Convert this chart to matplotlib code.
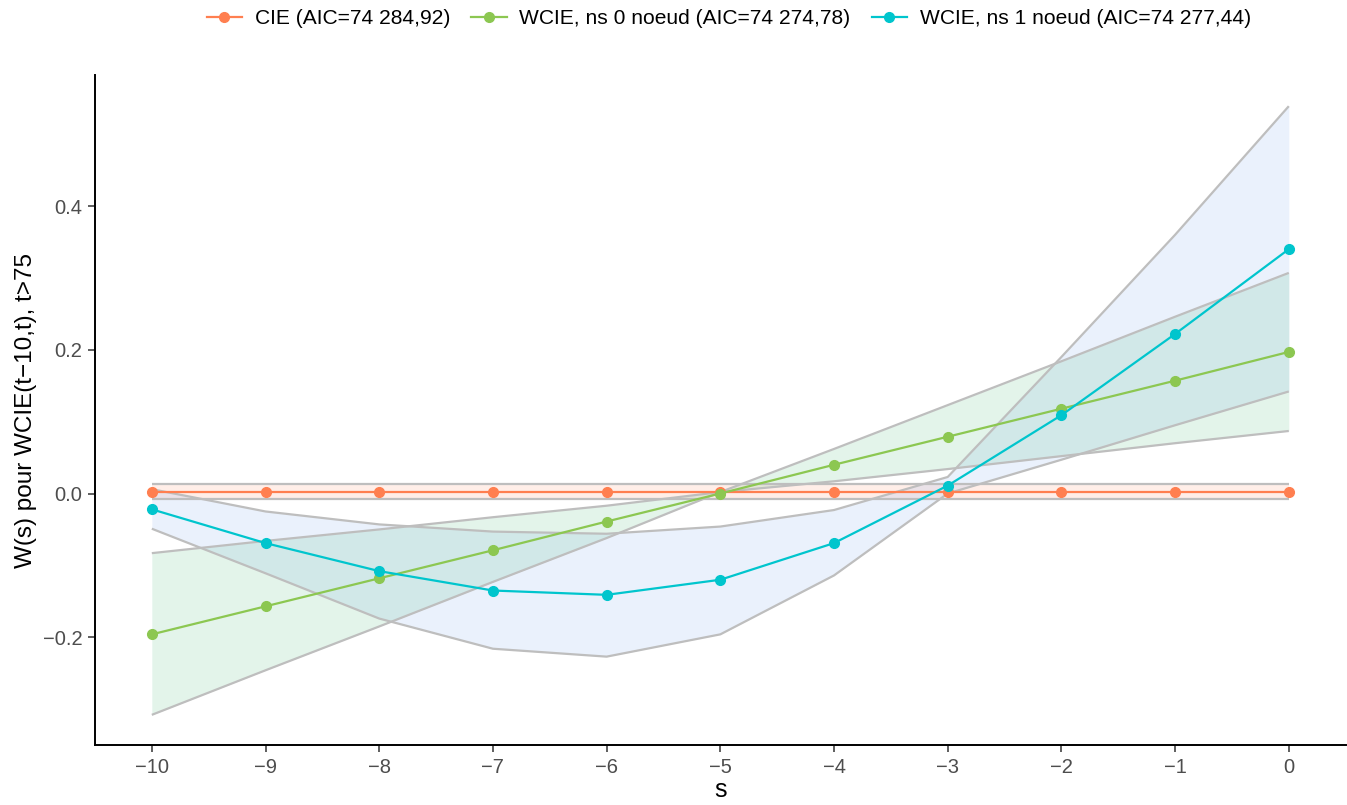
import matplotlib
matplotlib.use("Agg")
import matplotlib.pyplot as plt
from matplotlib.lines import Line2D

plt.rcParams['font.family'] = ['Liberation Sans', 'DejaVu Sans']

# ---- data ----
s = [-10, -9, -8, -7, -6, -5, -4, -3, -2, -1, 0]

cie = [0.0025, 0.0025, 0.0025, 0.0025, 0.0025, 0.0025, 0.0025, 0.0025, 0.0025, 0.0025, 0.0025]
cie_lo = [-0.008, -0.008, -0.008, -0.008, -0.008, -0.008, -0.008, -0.008, -0.008, -0.008, -0.008]
cie_hi = [0.013, 0.013, 0.013, 0.013, 0.013, 0.013, 0.013, 0.013, 0.013, 0.013, 0.013]

wcie0 = [-0.196, -0.157, -0.118, -0.079, -0.039, 0.000, 0.040, 0.079, 0.118, 0.157, 0.197]
wcie0_a = [-0.308, -0.246, -0.185, -0.123, -0.062, 0.002, 0.062, 0.123, 0.184, 0.246, 0.307]
wcie0_b = [-0.083, -0.066, -0.050, -0.033, -0.017, 0.002, 0.017, 0.034, 0.052, 0.070, 0.087]

wcie1 = [-0.022, -0.069, -0.108, -0.135, -0.141, -0.120, -0.069, 0.011, 0.109, 0.222, 0.340]
wcie1_lo = [-0.049, -0.111, -0.174, -0.216, -0.227, -0.196, -0.114, 0.000, 0.047, 0.095, 0.142]
wcie1_hi = [0.006, -0.025, -0.043, -0.053, -0.056, -0.046, -0.023, 0.023, 0.190, 0.360, 0.539]

labels = ["CIE (AIC=74 284,92)", "WCIE, ns 0 noeud (AIC=74 274,78)", "WCIE, ns 1 noeud (AIC=74 277,44)"]
colors = ["#FF7F50", "#8CC751", "#00C5CD"]
fills = ["#FF7F50", "#3CB371", "#6495ED"]
xticks = [-10, -9, -8, -7, -6, -5, -4, -3, -2, -1, 0]
yticks = [-0.2, 0.0, 0.2, 0.4]
ytick_labels = ["\u22120.2", "0.0", "0.2", "0.4"]

# ---- figure ----
fig = plt.figure(figsize=(13.47, 8.05), dpi=100)
ax = fig.add_axes([0.0705, 0.0745, 0.9285, 0.832])

gray = "#BEBEBE"
# ribbons
ax.fill_between(s, cie_lo, cie_hi, color=fills[0], alpha=0.13, linewidth=0, zorder=1)
ax.fill_between(s, wcie1_lo, wcie1_hi, color=fills[2], alpha=0.13, linewidth=0, zorder=1)
ax.fill_between(s, wcie0_a, wcie0_b, color=fills[1], alpha=0.14, linewidth=0, zorder=1)

for band in [cie_lo, cie_hi, wcie0_a, wcie0_b, wcie1_lo, wcie1_hi]:
    ax.plot(s, band, color=gray, linewidth=1.6, zorder=2, solid_capstyle='butt')

for y, c in zip([cie, wcie0, wcie1], colors):
    ax.plot(s, y, color=c, linewidth=1.6, marker='o', markersize=7, zorder=3)

ax.set_xlim(-10.5, 0.5)
ax.set_ylim(-0.350, 0.582)
ax.set_xticks(xticks)
ax.set_xticklabels([("\u2212%d" % -v) if v < 0 else "%d" % v for v in xticks])
ax.set_yticks(yticks)
ax.set_yticklabels(ytick_labels)

for sp in ["top", "right"]:
    ax.spines[sp].set_visible(False)
for sp in ["left", "bottom"]:
    ax.spines[sp].set_linewidth(1.4)
    ax.spines[sp].set_color("black")

ax.tick_params(axis='both', length=5, width=1.1, color="#333333",
               labelsize=14.5, labelcolor="#4D4D4D", pad=4)

ax.set_xlabel("s", fontsize=18, color="black", labelpad=1)
ax.set_ylabel("W(s) pour WCIE(t\u221210,t), t>75", fontsize=17.5, color="black", labelpad=4)

handles = [Line2D([0], [0], color=c, linewidth=1.6, marker='o', markersize=7) for c in colors]
fig.legend(handles, labels, loc="center", bbox_to_anchor=(0.541, 0.977), ncol=3,
           frameon=False, fontsize=15.1, handlelength=1.7, columnspacing=1.0, handletextpad=0.6)

fig.savefig("out.png", dpi=100, facecolor="white")
